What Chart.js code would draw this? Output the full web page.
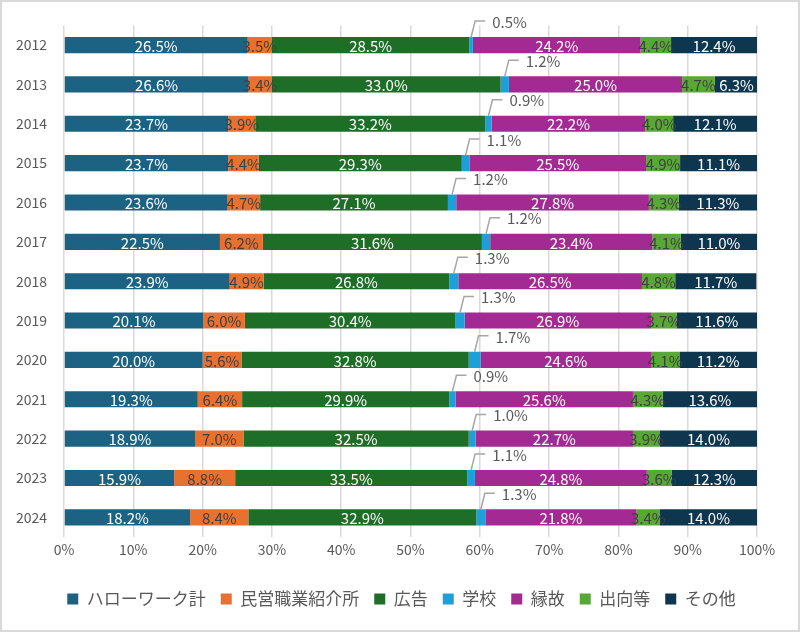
<!DOCTYPE html>
<html>
<head>
<meta charset="utf-8">
<script src="https://cdn.jsdelivr.net/npm/chart.js@4/dist/chart.umd.min.js"></script>
<style>
  html, body { margin: 0; padding: 0; background: #fff; }
  #wrap { width: 800px; height: 632px; }
</style>
</head>
<body>
<div id="wrap"><canvas id="myChart" width="800" height="632"></canvas></div>
<script>
// Years (categories)
const years = ["2012", "2013", "2014", "2015", "2016", "2017", "2018",
  "2019", "2020", "2021", "2022", "2023", "2024"];

// Share of each route (%)
const helloWork = [26.5, 26.6, 23.7, 23.7, 23.6, 22.5, 23.9, 20.1, 20.0, 19.3, 18.9, 15.9, 18.2];
const privateAgency = [3.5, 3.4, 3.9, 4.4, 4.7, 6.2, 4.9, 6.0, 5.6, 6.4, 7.0, 8.8, 8.4];
const advert = [28.5, 33.0, 33.2, 29.3, 27.1, 31.6, 26.8, 30.4, 32.8, 29.9, 32.5, 33.5, 32.9];
const school = [0.5, 1.2, 0.9, 1.1, 1.2, 1.2, 1.3, 1.3, 1.7, 0.9, 1.0, 1.1, 1.3];
const connection = [24.2, 25.0, 22.2, 25.5, 27.8, 23.4, 26.5, 26.9, 24.6, 25.6, 22.7, 24.8, 21.8];
const transfer = [4.4, 4.7, 4.0, 4.9, 4.3, 4.1, 4.8, 3.7, 4.1, 4.3, 3.9, 3.6, 3.4];
const other = [12.4, 6.3, 12.1, 11.1, 11.3, 11.0, 11.7, 11.6, 11.2, 13.6, 14.0, 12.3, 14.0];

// Axis ticks
const xTicks = [0, 10, 20, 30, 40, 50, 60, 70, 80, 90, 100];

const FONT = "'Noto Sans CJK JP', 'Noto Sans', sans-serif";
const GRAY = "#595959";

const series = [
  { label: "ハローワーク計", data: helloWork, color: "#1c6283", text: "#ffffff" },
  { label: "民営職業紹介所", data: privateAgency, color: "#e9712f", text: "#404040" },
  { label: "広告", data: advert, color: "#1e6e27", text: "#ffffff" },
  { label: "学校", data: school, color: "#1da0da", text: "#404040", callout: true },
  { label: "縁故", data: connection, color: "#a22a92", text: "#ffffff" },
  { label: "出向等", data: transfer, color: "#57a834", text: "#404040" },
  { label: "その他", data: other, color: "#0f364f", text: "#ffffff" },
];

// draws the % labels; the school series gets a leader line above the bar
const valueLabels = {
  id: "valueLabels",
  afterDatasetsDraw(chart) {
    const ctx = chart.ctx;
    ctx.save();
    ctx.font = "15px " + FONT;
    ctx.textBaseline = "middle";
    chart.data.datasets.forEach((ds, di) => {
      const meta = chart.getDatasetMeta(di);
      meta.data.forEach((bar, i) => {
        const txt = ds.data[i].toFixed(1) + "%";
        const cx = (bar.x + bar.base) / 2;
        if (ds.callout) {
          const top = bar.y - bar.height / 2;
          const ly = top - 16;
          ctx.strokeStyle = "#a6a6a6";
          ctx.lineWidth = 1.5;
          ctx.beginPath();
          ctx.moveTo(cx, top);
          ctx.lineTo(cx + 4, ly);
          ctx.lineTo(cx + 14, ly);
          ctx.stroke();
          ctx.fillStyle = GRAY;
          ctx.textAlign = "left";
          ctx.fillText(txt, cx + 21, ly + 1);
        } else {
          ctx.fillStyle = ds.textColor;
          ctx.textAlign = "center";
          ctx.fillText(txt, cx, bar.y + 1);
        }
      });
    });
    ctx.restore();
  },
};

// legend sits centred on the whole picture, not only on the plot
const legendShift = {
  id: "legendShift",
  afterLayout(chart) {
    chart.legend.left += 23;
    chart.legend.right += 23;
  },
};

// light frame round the whole picture
const frame = {
  id: "frame",
  afterDraw(chart) {
    const ctx = chart.ctx;
    ctx.save();
    ctx.strokeStyle = "#d9d9d9";
    ctx.lineWidth = 2;
    ctx.strokeRect(1, 1, chart.width - 2, chart.height - 2);
    ctx.restore();
  },
};

const ctx = document.getElementById("myChart").getContext("2d");

new Chart(ctx, {
  type: "bar",
  data: {
    labels: years,
    datasets: series.map((s) => ({
      label: s.label,
      data: s.data,
      backgroundColor: s.color,
      borderWidth: 0,
      textColor: s.text,
      callout: !!s.callout,
      barPercentage: 0.41,
      categoryPercentage: 1,
    })),
  },
  options: {
    indexAxis: "y",
    responsive: false,
    animation: false,
    devicePixelRatio: 1,
    layout: { padding: { top: 22, right: 43, left: 0, bottom: 14.5 } },
    scales: {
      x: {
        stacked: true,
        min: 0,
        max: 100,
        afterBuildTicks(scale) {
          scale.ticks = xTicks.map((v) => ({ value: v }));
        },
        afterFit(scale) { scale.height = 38.5; },
        grid: { color: "#d9d9d9", lineWidth: 1.5, drawTicks: false },
        border: { display: false },
        ticks: {
          padding: 4,
          color: GRAY,
          font: { family: FONT, size: 14 },
          callback: (v) => v + "%",
        },
      },
      y: {
        stacked: true,
        afterFit(scale) { scale.width = 64; },
        grid: { display: false, drawTicks: false },
        border: { display: false },
        ticks: {
          padding: 17,
          color: GRAY,
          font: { family: FONT, size: 14 },
        },
      },
    },
    plugins: {
      legend: {
        position: "bottom",
        labels: {
          boxWidth: 11,
          boxHeight: 11,
          padding: 15,
          color: GRAY,
          font: { family: FONT, size: 17 },
        },
      },
      tooltip: { enabled: false },
    },
  },
  plugins: [valueLabels, legendShift, frame],
});
</script>
</body>
</html>
